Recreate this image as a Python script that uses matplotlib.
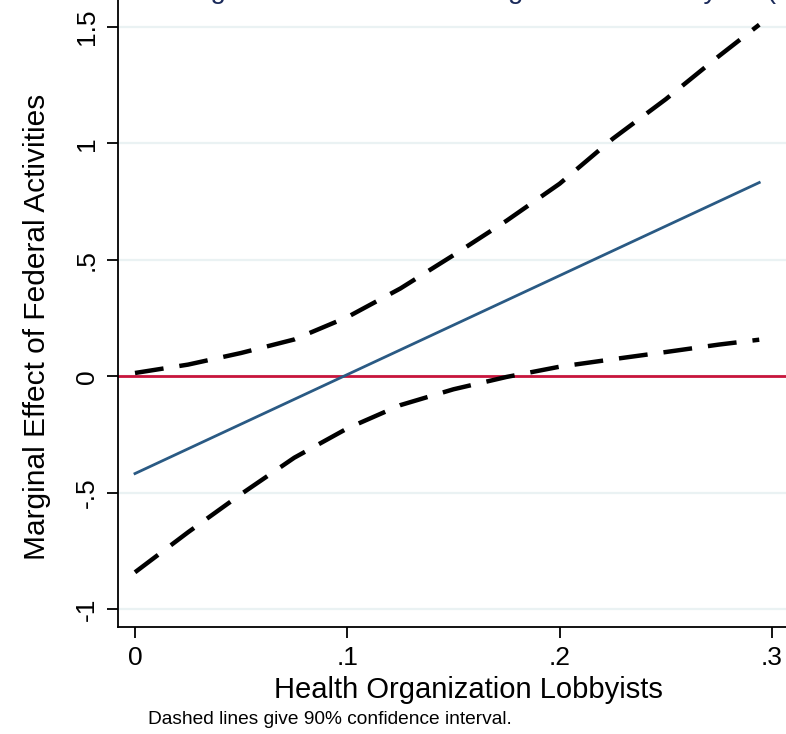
import matplotlib.pyplot as plt
import numpy as np

plt.rcParams['font.family'] = ['Liberation Sans', 'DejaVu Sans']

# marginal effect estimate (straight line between the two ends)
me_x = [0.0, 0.294]
me_y = [-0.418, 0.832]

# 90% confidence bounds
ci_x = [0.0, 0.025, 0.05, 0.075, 0.1, 0.125, 0.15, 0.175, 0.2, 0.225, 0.25, 0.275, 0.294]
ci_upper = [0.014, 0.05, 0.10, 0.158, 0.254, 0.377, 0.52, 0.668, 0.827, 1.02, 1.19, 1.375, 1.51]
ci_lower = [-0.842, -0.67, -0.506, -0.35, -0.224, -0.124, -0.056, -0.003, 0.041, 0.073, 0.104, 0.136, 0.157]

xticks = [0, 0.1, 0.2, 0.3]
xticklabels = ['0', '.1', '.2', '.3']
yticks = [-1, -0.5, 0, 0.5, 1, 1.5]
yticklabels = ['-1', '-.5', '0', '.5', '1', '1.5']

fig = plt.figure(figsize=(7.86, 7.34), dpi=100)
ax = fig.add_axes([118 / 786, 107 / 734, 1 - 118 / 786, 1 - 107 / 734])

ax.set_xlim(-0.008, 0.3066)
ax.set_ylim(-1.077, 1.616)

for yt in yticks:
    ax.axhline(yt, color='#eaf2f3', lw=1.6, zorder=0)

ax.axhline(0, color='#c8143c', lw=2.0, zorder=2)
ax.plot(me_x, me_y, color='#2a5a84', lw=2.0, zorder=3)
ax.plot(ci_x, ci_upper, color='black', lw=3.2, dashes=(6.5, 3.6), zorder=4)
ax.plot(ci_x, ci_lower, color='black', lw=3.2, dashes=(6.5, 3.6), zorder=4)

ax.spines['top'].set_visible(False)
ax.spines['right'].set_visible(False)
ax.spines['left'].set_linewidth(1.3)
ax.spines['bottom'].set_linewidth(1.3)

ax.set_xticks(xticks)
ax.set_xticklabels(xticklabels)
ax.set_yticks(yticks)
ax.set_yticklabels(yticklabels, rotation=90, va='center')
ax.tick_params(axis='both', length=8, width=1.3, labelsize=19, pad=6)

ax.set_xlabel('Health Organization Lobbyists', fontsize=21, labelpad=4)
ax.xaxis.label.set_x(0.524)
ax.set_ylabel('Marginal Effect of Federal Activities', fontsize=21.5, labelpad=17)
ax.yaxis.label.set_y(0.478)

fig.text(148 / 786, 1 - 720 / 734, 'Dashed lines give 90% confidence interval.',
         fontsize=13.8, va='center', ha='left')

fig.text(0.5 - 128 / 786, 1.0 + 2 / 734,
         'Figure 3: Marginal Effect of Federal Activities given Level of Health Organization Lobbyists (90% CI)',
         fontsize=20, color='#1a2a5a', ha='center', va='baseline')

fig.savefig('out.png', dpi=100)
